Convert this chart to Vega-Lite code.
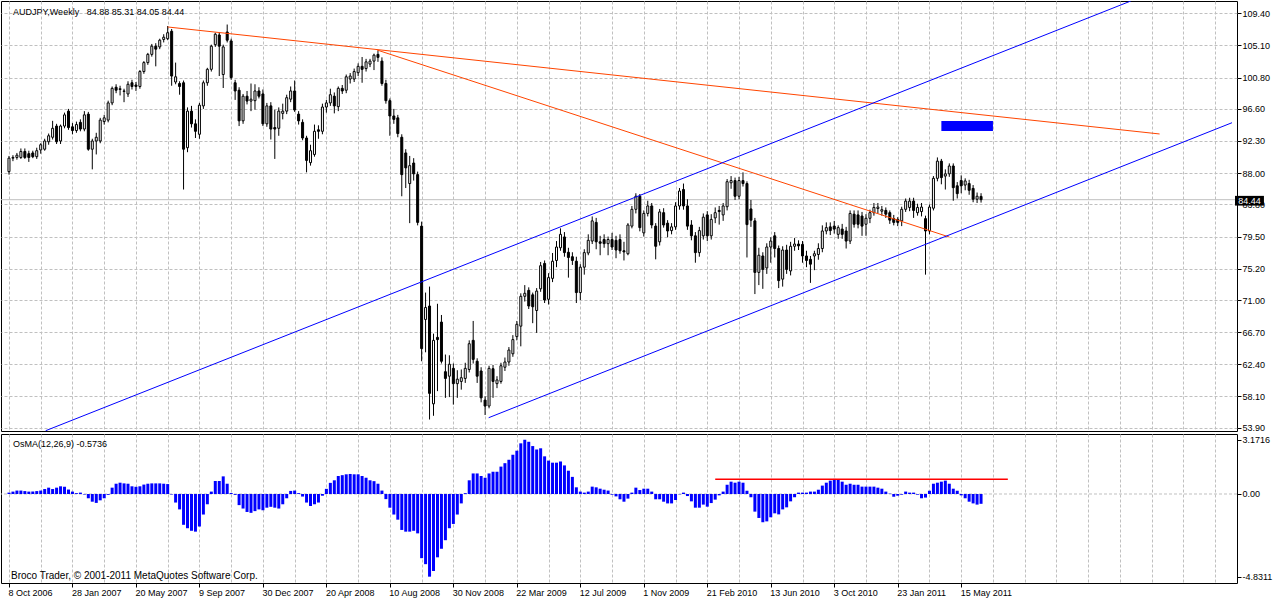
{
  "$schema": "https://vega.github.io/schema/vega-lite/v6.json",
  "background": "white",
  "padding": 0,
  "spacing": 3,
  "bounds": "flush",
  "config": {
    "view": {"stroke": "#000000", "strokeWidth": 1},
    "axis": {
      "labelFont": "Liberation Sans", "labelFontSize": 9, "labelColor": "#000000",
      "tickColor": "#000000", "gridColor": "#C0C0C0", "gridDash": [3, 2], "gridOpacity": 1,
      "domain": false, "labelOverlap": false, "labelFlush": false, "labelBound": false
    },
    "text": {"font": "Liberation Sans", "fontSize": 9}
  },
  "datasets": {
    "bars": [
      {"w":0,"o":88.2,"h":90.3,"l":87.8,"c":90.0,"m":0.08},
      {"w":1,"o":90.0,"h":90.4,"l":89.6,"c":90.1,"m":0.14},
      {"w":2,"o":90.1,"h":90.7,"l":89.8,"c":90.4,"m":0.2},
      {"w":3,"o":90.1,"h":91.3,"l":89.9,"c":90.9,"m":0.2},
      {"w":4,"o":90.9,"h":91.3,"l":89.9,"c":90.1,"m":0.17},
      {"w":5,"o":90.6,"h":91.0,"l":89.5,"c":90.1,"m":0.14},
      {"w":6,"o":90.7,"h":91.0,"l":90.0,"c":90.2,"m":0.14},
      {"w":7,"o":90.2,"h":91.4,"l":89.9,"c":91.0,"m":0.17},
      {"w":8,"o":91.1,"h":92.0,"l":90.6,"c":91.8,"m":0.2},
      {"w":9,"o":91.2,"h":92.6,"l":91.0,"c":92.3,"m":0.29},
      {"w":10,"o":92.2,"h":93.3,"l":91.8,"c":93.0,"m":0.37},
      {"w":11,"o":92.8,"h":95.0,"l":92.5,"c":94.0,"m":0.29},
      {"w":12,"o":94.3,"h":94.6,"l":91.9,"c":92.2,"m":0.37},
      {"w":13,"o":92.3,"h":94.5,"l":91.9,"c":94.3,"m":0.45},
      {"w":14,"o":94.3,"h":96.1,"l":94.0,"c":95.8,"m":0.42},
      {"w":15,"o":96.3,"h":96.6,"l":93.8,"c":94.1,"m":0.26},
      {"w":16,"o":94.2,"h":94.7,"l":93.2,"c":93.7,"m":0.14},
      {"w":17,"o":93.7,"h":94.9,"l":93.4,"c":94.5,"m":0.05},
      {"w":18,"o":94.8,"h":95.2,"l":93.6,"c":93.9,"m":0.08},
      {"w":19,"o":93.9,"h":96.3,"l":93.6,"c":95.8,"m":-0.03},
      {"w":20,"o":95.9,"h":96.2,"l":91.0,"c":91.2,"m":-0.25},
      {"w":21,"o":91.2,"h":92.6,"l":88.5,"c":92.3,"m":-0.45},
      {"w":22,"o":92.3,"h":93.4,"l":90.5,"c":92.8,"m":-0.52},
      {"w":23,"o":92.3,"h":95.4,"l":92.0,"c":95.1,"m":-0.37},
      {"w":24,"o":94.9,"h":95.8,"l":94.5,"c":95.4,"m":-0.25},
      {"w":25,"o":95.1,"h":97.7,"l":94.8,"c":97.4,"m":-0.05},
      {"w":26,"o":97.4,"h":99.6,"l":97.1,"c":99.35,"m":0.37},
      {"w":27,"o":99.5,"h":99.9,"l":98.7,"c":99.1,"m":0.6},
      {"w":28,"o":99.2,"h":99.7,"l":98.4,"c":99.3,"m":0.66},
      {"w":29,"o":99.0,"h":99.3,"l":97.5,"c":98.95,"m":0.62},
      {"w":30,"o":98.6,"h":100.3,"l":98.2,"c":99.9,"m":0.6},
      {"w":31,"o":100.1,"h":100.5,"l":99.2,"c":99.6,"m":0.45},
      {"w":32,"o":99.8,"h":100.2,"l":99.0,"c":99.6,"m":0.42},
      {"w":33,"o":99.6,"h":101.8,"l":99.3,"c":101.6,"m":0.45},
      {"w":34,"o":101.6,"h":103.0,"l":101.3,"c":102.8,"m":0.55},
      {"w":35,"o":102.8,"h":104.1,"l":102.5,"c":103.9,"m":0.6},
      {"w":36,"o":103.9,"h":105.3,"l":103.6,"c":105.0,"m":0.62},
      {"w":37,"o":105.0,"h":105.4,"l":102.3,"c":104.6,"m":0.62},
      {"w":38,"o":104.9,"h":106.0,"l":104.6,"c":105.8,"m":0.62},
      {"w":39,"o":105.9,"h":106.6,"l":105.5,"c":106.2,"m":0.6},
      {"w":40,"o":106.0,"h":107.7,"l":105.8,"c":106.8,"m":0.58},
      {"w":41,"o":107.0,"h":107.3,"l":99.7,"c":101.0,"m":-0.03},
      {"w":42,"o":100.2,"h":102.8,"l":99.9,"c":100.9,"m":-0.5},
      {"w":43,"o":100.0,"h":100.3,"l":98.5,"c":99.6,"m":-0.9},
      {"w":44,"o":100.1,"h":100.4,"l":85.8,"c":91.2,"m":-1.8},
      {"w":45,"o":91.4,"h":96.8,"l":90.8,"c":96.3,"m":-2.0},
      {"w":46,"o":96.3,"h":97.0,"l":94.1,"c":94.6,"m":-2.15},
      {"w":47,"o":94.6,"h":95.2,"l":92.7,"c":93.6,"m":-2.2},
      {"w":48,"o":93.2,"h":97.4,"l":92.6,"c":97.1,"m":-1.9},
      {"w":49,"o":97.0,"h":100.4,"l":96.6,"c":100.1,"m":-1.2},
      {"w":50,"o":100.1,"h":102.1,"l":99.7,"c":101.9,"m":-0.6},
      {"w":51,"o":101.9,"h":105.2,"l":101.6,"c":105.0,"m":0.14},
      {"w":52,"o":105.2,"h":106.8,"l":104.9,"c":106.6,"m":0.76},
      {"w":53,"o":106.5,"h":106.9,"l":101.0,"c":105.0,"m":0.76},
      {"w":54,"o":101.2,"h":105.2,"l":99.4,"c":104.9,"m":1.03},
      {"w":55,"o":106.9,"h":107.9,"l":105.5,"c":105.8,"m":0.6},
      {"w":56,"o":105.7,"h":106.0,"l":100.5,"c":100.8,"m":0.06},
      {"w":57,"o":100.1,"h":100.5,"l":97.8,"c":99.0,"m":-0.05},
      {"w":58,"o":99.1,"h":99.5,"l":94.3,"c":95.0,"m":-0.65},
      {"w":59,"o":95.0,"h":98.6,"l":94.6,"c":98.3,"m":-0.85},
      {"w":60,"o":98.3,"h":99.0,"l":97.2,"c":97.65,"m":-1.05},
      {"w":61,"o":97.65,"h":100.0,"l":96.3,"c":97.9,"m":-1.1},
      {"w":62,"o":97.7,"h":99.9,"l":96.5,"c":99.0,"m":-1.0},
      {"w":63,"o":99.0,"h":99.5,"l":98.0,"c":98.3,"m":-0.9},
      {"w":64,"o":98.6,"h":99.2,"l":94.3,"c":94.6,"m":-0.95},
      {"w":65,"o":94.6,"h":97.4,"l":94.2,"c":97.0,"m":-0.8},
      {"w":66,"o":97.0,"h":97.5,"l":92.5,"c":93.9,"m":-0.75},
      {"w":67,"o":94.1,"h":96.5,"l":89.9,"c":93.9,"m":-0.8},
      {"w":68,"o":94.0,"h":96.8,"l":93.0,"c":96.3,"m":-0.85},
      {"w":69,"o":96.0,"h":97.3,"l":95.2,"c":96.3,"m":-0.6},
      {"w":70,"o":96.3,"h":98.5,"l":95.9,"c":98.1,"m":-0.25},
      {"w":71,"o":97.9,"h":99.6,"l":97.5,"c":99.0,"m":0.18},
      {"w":72,"o":99.0,"h":100.4,"l":96.2,"c":96.45,"m":0.2},
      {"w":73,"o":95.9,"h":96.3,"l":94.5,"c":95.0,"m":0.05},
      {"w":74,"o":94.8,"h":95.2,"l":92.4,"c":92.7,"m":-0.15},
      {"w":75,"o":92.7,"h":93.0,"l":88.1,"c":89.7,"m":-0.5},
      {"w":76,"o":89.4,"h":91.8,"l":89.0,"c":91.0,"m":-0.7},
      {"w":77,"o":90.5,"h":94.5,"l":90.2,"c":93.6,"m":-0.6},
      {"w":78,"o":93.8,"h":94.4,"l":92.6,"c":93.6,"m":-0.5},
      {"w":79,"o":93.6,"h":97.3,"l":93.2,"c":96.85,"m":-0.1},
      {"w":80,"o":96.85,"h":97.8,"l":96.1,"c":97.4,"m":0.3},
      {"w":81,"o":97.4,"h":99.3,"l":97.0,"c":98.5,"m":0.65},
      {"w":82,"o":98.3,"h":98.8,"l":96.0,"c":97.0,"m":0.8},
      {"w":83,"o":96.9,"h":99.6,"l":96.3,"c":99.35,"m":1.05},
      {"w":84,"o":99.35,"h":99.8,"l":98.6,"c":99.0,"m":1.1},
      {"w":85,"o":99.1,"h":101.2,"l":98.7,"c":100.9,"m":1.15},
      {"w":86,"o":100.6,"h":101.4,"l":100.0,"c":101.0,"m":1.17},
      {"w":87,"o":100.6,"h":102.0,"l":100.2,"c":101.6,"m":1.15},
      {"w":88,"o":101.45,"h":102.7,"l":101.0,"c":102.3,"m":1.15},
      {"w":89,"o":102.3,"h":103.55,"l":100.1,"c":101.9,"m":1.05},
      {"w":90,"o":102.0,"h":103.3,"l":101.6,"c":102.9,"m":0.95},
      {"w":91,"o":102.6,"h":103.3,"l":102.2,"c":103.0,"m":0.8},
      {"w":92,"o":103.0,"h":104.0,"l":101.8,"c":103.8,"m":0.75},
      {"w":93,"o":103.9,"h":104.4,"l":102.9,"c":103.5,"m":0.6},
      {"w":94,"o":103.0,"h":103.5,"l":99.7,"c":100.0,"m":0.2},
      {"w":95,"o":100.0,"h":100.5,"l":97.3,"c":97.7,"m":-0.3},
      {"w":96,"o":97.7,"h":98.0,"l":93.0,"c":95.65,"m":-0.8},
      {"w":97,"o":95.65,"h":96.6,"l":94.6,"c":95.2,"m":-1.2},
      {"w":98,"o":95.4,"h":95.8,"l":92.8,"c":93.3,"m":-1.5},
      {"w":99,"o":92.8,"h":93.2,"l":84.9,"c":87.8,"m":-2.1},
      {"w":100,"o":90.7,"h":91.2,"l":86.0,"c":88.7,"m":-2.2},
      {"w":101,"o":86.6,"h":90.3,"l":81.3,"c":89.0,"m":-2.2},
      {"w":102,"o":89.35,"h":90.0,"l":87.0,"c":87.9,"m":-2.15},
      {"w":103,"o":87.8,"h":88.2,"l":81.0,"c":81.4,"m":-2.3},
      {"w":104,"o":80.9,"h":81.5,"l":62.8,"c":64.5,"m":-3.75},
      {"w":105,"o":68.4,"h":72.0,"l":64.0,"c":70.0,"m":-4.1},
      {"w":106,"o":70.2,"h":72.8,"l":55.0,"c":58.5,"m":-4.83},
      {"w":107,"o":57.1,"h":66.5,"l":55.5,"c":65.6,"m":-4.5},
      {"w":108,"o":66.0,"h":70.5,"l":58.8,"c":65.7,"m":-3.7},
      {"w":109,"o":68.05,"h":69.0,"l":62.5,"c":62.8,"m":-3.2},
      {"w":110,"o":61.4,"h":63.7,"l":57.9,"c":60.5,"m":-2.7},
      {"w":111,"o":60.8,"h":63.6,"l":58.0,"c":62.4,"m":-2.0},
      {"w":112,"o":61.85,"h":62.5,"l":57.0,"c":59.8,"m":-1.75},
      {"w":113,"o":59.8,"h":61.6,"l":57.9,"c":60.4,"m":-1.2},
      {"w":114,"o":60.1,"h":61.7,"l":59.0,"c":60.6,"m":-0.55},
      {"w":115,"o":60.5,"h":62.6,"l":59.9,"c":61.85,"m":0.05},
      {"w":116,"o":61.7,"h":65.6,"l":61.3,"c":65.15,"m":0.8},
      {"w":117,"o":65.6,"h":68.2,"l":62.5,"c":63.05,"m":1.2},
      {"w":118,"o":62.8,"h":63.2,"l":59.9,"c":60.8,"m":1.2},
      {"w":119,"o":61.5,"h":62.0,"l":57.3,"c":57.9,"m":1.05},
      {"w":120,"o":57.6,"h":58.1,"l":55.6,"c":56.8,"m":0.95},
      {"w":121,"o":56.8,"h":62.2,"l":56.5,"c":61.85,"m":1.2},
      {"w":122,"o":61.8,"h":62.3,"l":57.9,"c":60.1,"m":1.3},
      {"w":123,"o":59.8,"h":60.8,"l":59.2,"c":60.3,"m":1.3},
      {"w":124,"o":60.1,"h":62.6,"l":59.8,"c":62.2,"m":1.6},
      {"w":125,"o":62.0,"h":63.3,"l":61.5,"c":62.7,"m":1.8},
      {"w":126,"o":62.7,"h":64.7,"l":62.2,"c":64.3,"m":2.0},
      {"w":127,"o":63.8,"h":66.3,"l":63.4,"c":65.7,"m":2.3},
      {"w":128,"o":66.1,"h":68.2,"l":65.6,"c":67.75,"m":2.53},
      {"w":129,"o":67.5,"h":71.9,"l":64.8,"c":71.5,"m":2.96},
      {"w":130,"o":71.5,"h":73.0,"l":70.8,"c":71.9,"m":3.17},
      {"w":131,"o":72.3,"h":72.7,"l":69.8,"c":70.2,"m":3.05},
      {"w":132,"o":71.7,"h":72.0,"l":67.9,"c":70.1,"m":2.8},
      {"w":133,"o":69.6,"h":72.6,"l":66.6,"c":72.2,"m":2.6},
      {"w":134,"o":72.5,"h":76.1,"l":72.1,"c":75.6,"m":2.67},
      {"w":135,"o":75.9,"h":76.3,"l":70.6,"c":71.0,"m":2.2},
      {"w":136,"o":71.1,"h":74.6,"l":70.4,"c":74.0,"m":1.95},
      {"w":137,"o":73.9,"h":77.3,"l":73.4,"c":76.2,"m":1.83},
      {"w":138,"o":76.3,"h":78.9,"l":75.4,"c":78.1,"m":1.83},
      {"w":139,"o":78.0,"h":80.6,"l":77.6,"c":79.8,"m":1.9},
      {"w":140,"o":79.45,"h":80.1,"l":76.8,"c":77.35,"m":1.67},
      {"w":141,"o":77.4,"h":78.0,"l":74.0,"c":76.7,"m":1.36},
      {"w":142,"o":76.8,"h":77.4,"l":75.7,"c":76.3,"m":1.0},
      {"w":143,"o":76.2,"h":76.8,"l":70.6,"c":72.0,"m":0.39},
      {"w":144,"o":72.0,"h":75.8,"l":71.0,"c":75.4,"m":0.14},
      {"w":145,"o":75.4,"h":77.8,"l":74.4,"c":77.35,"m":0.08},
      {"w":146,"o":77.3,"h":79.8,"l":77.0,"c":79.0,"m":0.14},
      {"w":147,"o":78.9,"h":82.2,"l":78.5,"c":81.6,"m":0.43},
      {"w":148,"o":81.4,"h":82.0,"l":77.8,"c":78.8,"m":0.39},
      {"w":149,"o":78.8,"h":79.6,"l":77.0,"c":78.6,"m":0.31},
      {"w":150,"o":79.1,"h":79.8,"l":78.0,"c":78.55,"m":0.25},
      {"w":151,"o":78.55,"h":79.5,"l":77.0,"c":79.1,"m":0.2},
      {"w":152,"o":79.1,"h":80.0,"l":77.7,"c":78.1,"m":-0.04},
      {"w":153,"o":79.0,"h":79.6,"l":76.6,"c":77.7,"m":-0.14},
      {"w":154,"o":79.1,"h":79.8,"l":77.2,"c":77.6,"m":-0.31},
      {"w":155,"o":77.6,"h":78.8,"l":76.3,"c":77.45,"m":-0.45},
      {"w":156,"o":77.2,"h":81.3,"l":77.0,"c":81.05,"m":-0.27},
      {"w":157,"o":80.9,"h":83.6,"l":80.6,"c":83.15,"m":0.08},
      {"w":158,"o":83.15,"h":85.3,"l":82.6,"c":84.9,"m":0.37},
      {"w":159,"o":84.9,"h":85.2,"l":80.2,"c":80.7,"m":0.23},
      {"w":160,"o":80.0,"h":83.0,"l":79.5,"c":82.6,"m":0.31},
      {"w":161,"o":82.6,"h":84.3,"l":82.2,"c":83.6,"m":0.31},
      {"w":162,"o":83.6,"h":84.0,"l":80.6,"c":81.05,"m":0.14},
      {"w":163,"o":80.9,"h":81.3,"l":76.45,"c":78.2,"m":-0.31},
      {"w":164,"o":78.8,"h":83.2,"l":78.3,"c":82.8,"m":-0.31},
      {"w":165,"o":82.7,"h":83.3,"l":80.7,"c":81.05,"m":-0.45},
      {"w":166,"o":81.3,"h":81.7,"l":79.4,"c":80.25,"m":-0.55},
      {"w":167,"o":80.3,"h":81.3,"l":79.8,"c":80.8,"m":-0.55},
      {"w":168,"o":80.8,"h":84.1,"l":80.4,"c":83.6,"m":-0.35},
      {"w":169,"o":83.6,"h":86.0,"l":83.1,"c":85.6,"m":-0.02},
      {"w":170,"o":85.8,"h":86.6,"l":83.1,"c":83.6,"m":0.08},
      {"w":171,"o":83.6,"h":84.5,"l":80.4,"c":80.9,"m":-0.12},
      {"w":172,"o":81.05,"h":81.7,"l":79.0,"c":79.6,"m":-0.43},
      {"w":173,"o":79.6,"h":80.1,"l":76.0,"c":77.35,"m":-0.8},
      {"w":174,"o":77.35,"h":80.8,"l":76.8,"c":80.3,"m":-0.8},
      {"w":175,"o":79.6,"h":82.6,"l":79.1,"c":82.1,"m":-0.62},
      {"w":176,"o":82.4,"h":82.9,"l":78.9,"c":79.6,"m":-0.74},
      {"w":177,"o":79.6,"h":82.5,"l":79.1,"c":81.8,"m":-0.53},
      {"w":178,"o":82.0,"h":83.4,"l":81.3,"c":82.7,"m":-0.33},
      {"w":179,"o":83.0,"h":83.6,"l":81.1,"c":82.85,"m":-0.08},
      {"w":180,"o":82.4,"h":84.0,"l":81.6,"c":83.6,"m":0.14},
      {"w":181,"o":83.5,"h":87.2,"l":83.0,"c":86.85,"m":0.54},
      {"w":182,"o":86.7,"h":87.6,"l":85.9,"c":87.0,"m":0.72},
      {"w":183,"o":87.0,"h":87.4,"l":84.4,"c":84.9,"m":0.66},
      {"w":184,"o":84.9,"h":87.5,"l":84.5,"c":87.0,"m":0.72},
      {"w":185,"o":87.0,"h":88.1,"l":86.2,"c":86.6,"m":0.66},
      {"w":186,"o":86.6,"h":86.9,"l":76.7,"c":81.1,"m":0.19},
      {"w":187,"o":83.2,"h":84.4,"l":80.8,"c":81.7,"m":-0.19},
      {"w":188,"o":81.6,"h":82.0,"l":71.8,"c":74.7,"m":-1.03},
      {"w":189,"o":74.7,"h":78.0,"l":73.0,"c":77.0,"m":-1.4},
      {"w":190,"o":76.9,"h":77.4,"l":72.5,"c":75.1,"m":-1.65},
      {"w":191,"o":75.3,"h":78.6,"l":74.5,"c":78.1,"m":-1.6},
      {"w":192,"o":78.1,"h":79.4,"l":76.0,"c":78.9,"m":-1.36},
      {"w":193,"o":79.6,"h":80.1,"l":76.7,"c":77.9,"m":-1.13},
      {"w":194,"o":77.9,"h":78.3,"l":72.6,"c":73.6,"m":-1.19},
      {"w":195,"o":73.8,"h":78.2,"l":72.8,"c":77.7,"m":-0.9},
      {"w":196,"o":77.7,"h":78.4,"l":74.5,"c":75.1,"m":-0.78},
      {"w":197,"o":74.9,"h":78.8,"l":74.3,"c":78.2,"m":-0.43},
      {"w":198,"o":78.2,"h":79.3,"l":77.6,"c":78.5,"m":-0.19},
      {"w":199,"o":78.5,"h":79.0,"l":77.7,"c":78.25,"m":0.08},
      {"w":200,"o":78.45,"h":78.9,"l":76.0,"c":76.9,"m":0.08},
      {"w":201,"o":76.9,"h":77.6,"l":75.4,"c":76.3,"m":0.08},
      {"w":202,"o":76.45,"h":76.9,"l":73.3,"c":75.8,"m":0.14},
      {"w":203,"o":76.9,"h":77.6,"l":75.0,"c":77.2,"m":0.14},
      {"w":204,"o":77.1,"h":78.6,"l":76.4,"c":77.9,"m":0.25},
      {"w":205,"o":77.9,"h":81.0,"l":77.4,"c":80.25,"m":0.49},
      {"w":206,"o":80.25,"h":81.4,"l":79.8,"c":80.7,"m":0.66},
      {"w":207,"o":80.8,"h":81.4,"l":79.7,"c":80.3,"m":0.78},
      {"w":208,"o":80.9,"h":81.6,"l":79.9,"c":80.5,"m":0.88},
      {"w":209,"o":79.8,"h":81.0,"l":79.2,"c":80.7,"m":0.86},
      {"w":210,"o":80.5,"h":81.2,"l":79.2,"c":79.8,"m":0.72},
      {"w":211,"o":80.25,"h":80.8,"l":77.9,"c":78.9,"m":0.54},
      {"w":212,"o":78.9,"h":83.0,"l":78.5,"c":82.6,"m":0.6},
      {"w":213,"o":82.5,"h":83.0,"l":80.7,"c":81.15,"m":0.54},
      {"w":214,"o":82.4,"h":83.0,"l":80.6,"c":81.15,"m":0.54},
      {"w":215,"o":82.25,"h":82.8,"l":79.6,"c":80.9,"m":0.43},
      {"w":216,"o":81.15,"h":82.5,"l":79.6,"c":81.95,"m":0.43},
      {"w":217,"o":81.95,"h":83.1,"l":81.3,"c":82.7,"m":0.43},
      {"w":218,"o":82.7,"h":84.0,"l":82.3,"c":83.4,"m":0.43},
      {"w":219,"o":83.25,"h":84.0,"l":82.6,"c":83.45,"m":0.37},
      {"w":220,"o":82.9,"h":83.6,"l":82.3,"c":83.1,"m":0.31},
      {"w":221,"o":83.0,"h":83.4,"l":82.0,"c":82.5,"m":0.14},
      {"w":222,"o":82.7,"h":83.0,"l":81.2,"c":81.7,"m":0.02},
      {"w":223,"o":81.9,"h":82.4,"l":81.0,"c":81.4,"m":-0.16},
      {"w":224,"o":81.8,"h":82.1,"l":80.9,"c":81.4,"m":-0.1},
      {"w":225,"o":81.6,"h":83.5,"l":80.9,"c":83.15,"m":-0.04},
      {"w":226,"o":83.15,"h":84.6,"l":82.8,"c":84.25,"m":0.14},
      {"w":227,"o":83.4,"h":84.7,"l":82.9,"c":84.25,"m":0.08},
      {"w":228,"o":84.25,"h":84.7,"l":82.0,"c":83.0,"m":0.08},
      {"w":229,"o":82.7,"h":83.9,"l":82.3,"c":83.4,"m":-0.04},
      {"w":230,"o":82.85,"h":84.0,"l":82.2,"c":83.45,"m":-0.25},
      {"w":231,"o":81.9,"h":82.3,"l":74.4,"c":80.25,"m":-0.21},
      {"w":232,"o":80.25,"h":83.8,"l":79.8,"c":83.45,"m":0.19},
      {"w":233,"o":83.3,"h":87.6,"l":83.0,"c":87.3,"m":0.6},
      {"w":234,"o":87.3,"h":90.1,"l":86.9,"c":89.6,"m":0.66},
      {"w":235,"o":89.6,"h":89.9,"l":86.5,"c":87.4,"m":0.72},
      {"w":236,"o":87.6,"h":88.5,"l":85.8,"c":87.9,"m":0.78},
      {"w":237,"o":87.9,"h":89.3,"l":87.5,"c":88.95,"m":0.6},
      {"w":238,"o":88.95,"h":89.3,"l":84.3,"c":86.05,"m":0.31},
      {"w":239,"o":86.3,"h":86.8,"l":84.6,"c":85.25,"m":0.19},
      {"w":240,"o":87.0,"h":87.7,"l":85.3,"c":86.3,"m":-0.08},
      {"w":241,"o":86.4,"h":87.3,"l":85.7,"c":86.95,"m":-0.25},
      {"w":242,"o":86.6,"h":87.1,"l":85.1,"c":85.7,"m":-0.45},
      {"w":243,"o":85.95,"h":86.4,"l":84.1,"c":84.5,"m":-0.55},
      {"w":244,"o":84.5,"h":85.4,"l":84.0,"c":84.9,"m":-0.62},
      {"w":245,"o":84.88,"h":85.31,"l":84.05,"c":84.44,"m":-0.5736}
    ],
    "trendlines": [
      {"kind":"resistance","w1":40,"p1":107.57,"w2":290,"p2":93.24},
      {"kind":"resistance","w1":92.75,"p1":104.49,"w2":237,"p2":79.44},
      {"kind":"channel","w1":9.25,"p1":53.5,"w2":282.75,"p2":111.05},
      {"kind":"channel","w1":120.9,"p1":55.24,"w2":308.25,"p2":94.75}
    ]
  },
  "vconcat": [
    {
      "width": 1236,
      "height": 430,
      "layer": [
        {
          "data": {"values": [{}]},
          "mark": {"type": "rule", "color": "#C0C0C0", "strokeWidth": 1},
          "encoding": {
            "y": {"datum": 84.44, "type": "quantitative", "scale": {"domain": [53.46, 111.05], "nice": false, "zero": false}}
          }
        },
        {
          "data": {"name": "bars"},
          "mark": {"type": "rule", "color": "#000000", "strokeWidth": 1},
          "encoding": {
            "x": {
              "field": "w", "type": "quantitative", "title": null,
              "scale": {"domain": [-0.75, 308.25], "nice": false, "zero": false},
              "axis": {
                "values": [0,8,16,24,32,40,48,56,64,72,80,88,96,104,112,120,128,136,144,152,160,168,176,184,192,200,208,216,224,232,240,248,256,264,272,280,288,296,304],
                "tickCount": 100,
                "grid": true, "labels": false, "ticks": false, "domain": false
              }
            },
            "y": {
              "field": "l", "type": "quantitative", "title": null,
              "scale": {"domain": [53.46, 111.05], "nice": false, "zero": false},
              "axis": {
                "orient": "right",
                "values": [109.4, 105.1, 100.8, 96.6, 92.3, 88.0, 83.8, 79.5, 75.2, 71.0, 66.7, 62.4, 58.1, 53.9],
                "tickCount": 50,
                "format": ".2f", "grid": true, "tickSize": 4, "labelPadding": 1,
                "labelOverlap": false, "labelFlush": false, "labelBound": false
              }
            },
            "y2": {"field": "h"}
          }
        },
        {
          "data": {"name": "bars"},
          "mark": {"type": "bar", "size": 2, "stroke": "#000000", "strokeWidth": 1},
          "encoding": {
            "x": {"field": "w", "type": "quantitative", "title": null, "scale": {"domain": [-0.75, 308.25], "nice": false, "zero": false}},
            "y": {"field": "o", "type": "quantitative", "title": null, "scale": {"domain": [53.46, 111.05], "nice": false, "zero": false}},
            "y2": {"field": "c"},
            "fill": {"condition": {"test": "datum.c >= datum.o", "value": "#FFFFFF"}, "value": "#000000"}
          }
        },
        {
          "data": {"name": "trendlines"},
          "mark": {"type": "rule", "strokeWidth": 1, "clip": true},
          "encoding": {
            "x": {"field": "w1", "type": "quantitative", "title": null, "scale": {"domain": [-0.75, 308.25], "nice": false, "zero": false}},
            "x2": {"field": "w2"},
            "y": {"field": "p1", "type": "quantitative", "title": null, "scale": {"domain": [53.46, 111.05], "nice": false, "zero": false}},
            "y2": {"field": "p2"},
            "color": {"field": "kind", "type": "nominal", "scale": {"domain": ["resistance", "channel"], "range": ["#FF4500", "#0000FF"]}, "legend": null}
          }
        },
        {
          "data": {"values": [{}]},
          "mark": {"type": "rect", "color": "#0000FF"},
          "encoding": {
            "x": {"datum": 235, "type": "quantitative"},
            "x2": {"datum": 248},
            "y": {"datum": 93.64, "type": "quantitative"},
            "y2": {"datum": 94.98}
          }
        },
        {
          "data": {"values": [{}]},
          "mark": {"type": "rect", "color": "#000000"},
          "encoding": {
            "x": {"datum": 309, "type": "quantitative"},
            "x2": {"datum": 316.3},
            "y": {"datum": 83.65, "type": "quantitative"},
            "y2": {"datum": 84.95}
          }
        },
        {
          "data": {"values": [{"label": "84.44"}]},
          "mark": {"type": "text", "color": "#FFFFFF", "align": "center", "baseline": "middle"},
          "encoding": {
            "x": {"datum": 312.65, "type": "quantitative"},
            "y": {"datum": 84.3, "type": "quantitative"},
            "text": {"field": "label"}
          }
        },
        {
          "data": {"values": [{"label": "AUDJPY,Weekly\u00a0\u00a0\u00a084.88 85.31 84.05 84.44"}]},
          "mark": {"type": "text", "color": "#000000", "align": "left", "baseline": "middle"},
          "encoding": {
            "x": {"datum": 1, "type": "quantitative"},
            "y": {"datum": 109.6, "type": "quantitative"},
            "text": {"field": "label"}
          }
        }
      ]
    },
    {
      "width": 1236,
      "height": 149,
      "layer": [
        {
          "data": {"values": [{}]},
          "mark": {"type": "rule", "color": "#C0C0C0", "strokeDash": [3, 2]},
          "encoding": {
            "y": {"datum": 0, "type": "quantitative", "scale": {"domain": [-5.2, 3.505], "nice": false, "zero": false}}
          }
        },
        {
          "data": {"name": "bars"},
          "mark": {"type": "bar", "size": 3, "color": "#0000FF"},
          "encoding": {
            "x": {
              "field": "w", "type": "quantitative", "title": null,
              "scale": {"domain": [-0.75, 308.25], "nice": false, "zero": false},
              "axis": {
                "values": [0,8,16,24,32,40,48,56,64,72,80,88,96,104,112,120,128,136,144,152,160,168,176,184,192,200,208,216,224,232,240,248,256,264,272,280,288,296,304],
                "tickCount": 100,
                "grid": true, "domain": false, "tickSize": 4, "labelPadding": 1, "labelOffset": -1,
                "labelAlign": "left", "labelBaseline": "top",
                "labelOverlap": false, "labelFlush": false, "labelBound": false,
                "labelExpr": "datum.value % 16 == 0 && datum.value <= 240 ? timeFormat(datetime(2006, 9, 8 + datum.value * 7), '%-d %b %Y') : ''",
                "tickOpacity": {"condition": {"test": "datum.value % 16 == 0 && datum.value <= 240", "value": 1}, "value": 0}
              }
            },
            "y": {
              "field": "m", "type": "quantitative", "title": null,
              "scale": {"domain": [-5.2, 3.505], "nice": false, "zero": false},
              "axis": {
                "orient": "right", "values": [3.1716, 0, -4.8311], "tickCount": 10, "grid": false, "tickSize": 4, "labelPadding": 1,
                "labelOverlap": false, "labelFlush": false, "labelBound": false,
                "labelExpr": "datum.value > 1 ? '3.1716' : (datum.value < -1 ? '-4.8311' : '0.00')"
              }
            },
            "y2": {"datum": 0}
          }
        },
        {
          "data": {"values": [{}]},
          "mark": {"type": "rule", "color": "#FF0000", "strokeWidth": 1.5},
          "encoding": {
            "x": {"datum": 178, "type": "quantitative"},
            "x2": {"datum": 251.75},
            "y": {"datum": 0.86, "type": "quantitative"}
          }
        },
        {
          "data": {"values": [{"label": "OsMA(12,26,9) -0.5736"}]},
          "mark": {"type": "text", "color": "#000000", "align": "left", "baseline": "middle"},
          "encoding": {
            "x": {"datum": 1, "type": "quantitative"},
            "y": {"datum": 2.92, "type": "quantitative"},
            "text": {"field": "label"}
          }
        },
        {
          "data": {"values": [{"label": "Broco Trader, © 2001-2011 MetaQuotes Software Corp."}]},
          "mark": {"type": "text", "color": "#000000", "align": "left", "baseline": "middle", "fontSize": 10},
          "encoding": {
            "x": {"datum": 0.5, "type": "quantitative"},
            "y": {"datum": -4.79, "type": "quantitative"},
            "text": {"field": "label"}
          }
        }
      ]
    }
  ]
}
